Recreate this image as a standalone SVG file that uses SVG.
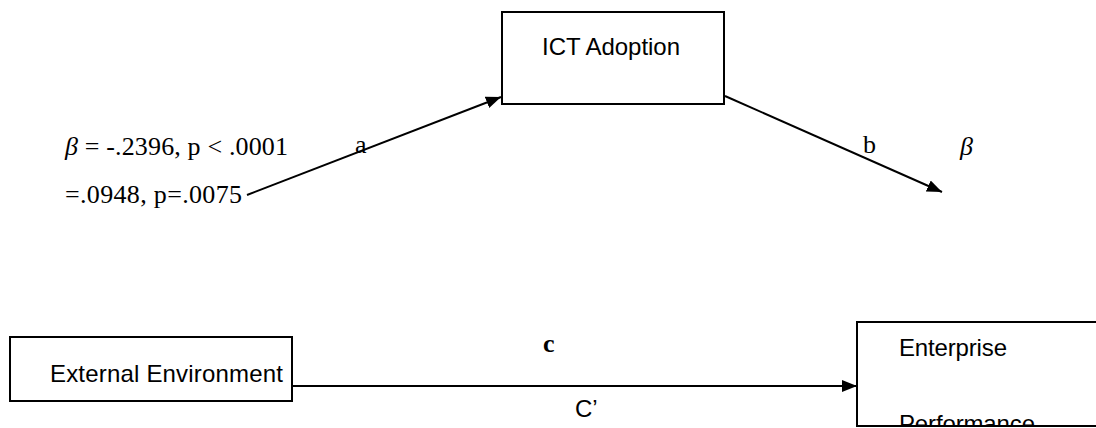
<svg xmlns="http://www.w3.org/2000/svg" width="1096" height="428" viewBox="0 0 1096 428">
  <style>
    .box { fill: #ffffff; stroke: #000000; stroke-width: 2; }
    .label { font-family: "Liberation Sans", Arial, sans-serif; font-size: 24px; fill: #000000; }
    .stat { font-family: "Liberation Serif", "Times New Roman", serif; font-size: 26px; fill: #000000; }
    .beta { font-style: italic; }
    .bold { font-weight: bold; }
    .edge { stroke: #000000; stroke-width: 2; fill: none; marker-end: url(#head); }
  </style>
  <defs>
    <marker id="head" markerUnits="userSpaceOnUse" markerWidth="16" markerHeight="14" refX="15" refY="7" orient="auto">
      <path d="M0,1 L15,7 L0,13 Z" fill="#000000"/>
    </marker>
    <clipPath id="perfClip">
      <rect x="857" y="322" width="240" height="103"/>
    </clipPath>
  </defs>

  <!-- nodes -->
  <g id="ict-adoption">
    <rect class="box" x="502" y="12" width="222" height="92"/>
    <text class="label" x="542" y="55" textLength="138">ICT Adoption</text>
  </g>

  <g id="external-environment">
    <rect class="box" x="10" y="337" width="282" height="64"/>
    <text class="label" x="50" y="382" textLength="233">External Environment</text>
  </g>

  <g id="enterprise-performance">
    <rect class="box" x="857" y="322" width="250" height="104"/>
    <g clip-path="url(#perfClip)">
      <text class="label" x="899" y="356" textLength="108">Enterprise</text>
      <text class="label" x="899" y="432" textLength="136">Performance</text>
    </g>
  </g>

  <!-- connectors -->
  <g id="connectors">
    <line class="edge" x1="247" y1="195" x2="501" y2="97"/>
    <line class="edge" x1="725" y1="96" x2="942" y2="192"/>
    <line class="edge" x1="292" y1="386" x2="857" y2="386"/>
  </g>

  <!-- path coefficients and labels -->
  <g id="annotations">
    <text class="stat" x="65" y="155" textLength="223"><tspan class="beta">β</tspan> = -.2396, p &lt; .0001</text>
    <text class="stat" x="65" y="203" textLength="177">=.0948, p=.0075</text>
    <text class="stat" x="355" y="153">a</text>
    <text class="stat" x="863" y="153">b</text>
    <text class="stat beta" x="960" y="155">β</text>
    <text class="stat bold" x="543" y="352">c</text>
    <text class="label" x="575" y="417">C’</text>
  </g>
</svg>
